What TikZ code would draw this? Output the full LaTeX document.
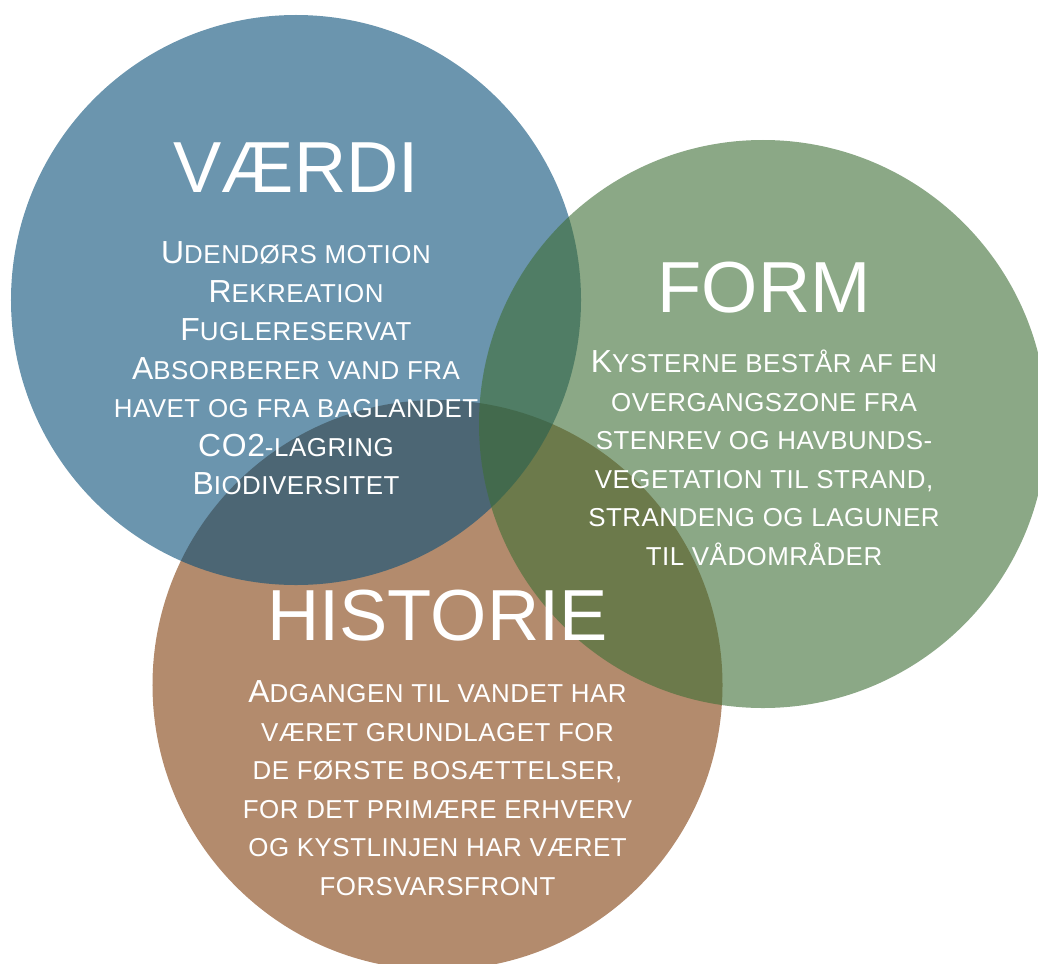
\documentclass[tikz,border=0pt]{standalone}
\usepackage{fontspec}
\setmainfont{Liberation Sans}
\newfontfamily\bodyfont[LetterSpace=2]{Liberation Sans}
\newcommand\kapit[1]{{\fontsize{26}{38.6}\selectfont #1}}
\definecolor{vaerdiblue}{HTML}{084E78}
\definecolor{formgreen}{HTML}{3E6E35}
\definecolor{historiebrown}{HTML}{803E0C}

\begin{document}
\begin{tikzpicture}[x=1bp, y=-1bp,
  kreds/.style={fill opacity=0.6},
  titel/.style={text=white, font=\fontsize{72.6}{80}\selectfont, anchor=base, inner sep=0pt},
  tekst/.style={text=white, font=\bodyfont\fontsize{32}{38.6}\selectfont, align=center, anchor=base, inner sep=0pt}]
  \useasboundingbox (0,0) rectangle (1038,964);

  % circles: brown at the bottom, green on top
  \fill[kreds, fill=historiebrown] (437.5,685) circle[radius=285bp];
  \fill[kreds, fill=vaerdiblue] (296,300) circle[radius=285bp];
  \fill[kreds, fill=formgreen] (763,424) circle[radius=284bp];

  % text nodes sit on the baseline of their last line
  \node[titel] (vaerdi) at (296,192) {VÆRDI};
  \node[tekst] (vaerdi-tekst) at (296,494.6) {U\kapit{DENDØRS MOTION}\\
    R\kapit{EKREATION}\\
    F\kapit{UGLERESERVAT}\\
    A\kapit{BSORBERER VAND FRA}\\
    \kapit{HAVET OG FRA BAGLANDET}\\
    CO2\kapit{-LAGRING}\\
    B\kapit{IODIVERSITET}};

  \node[titel] (form) at (764,312) {FORM};
  \node[tekst] (form-tekst) at (764,565) {K\kapit{YSTERNE BESTÅR AF EN}\\
    \kapit{OVERGANGSZONE FRA}\\
    \kapit{STENREV OG HAVBUNDS-}\\
    \kapit{VEGETATION TIL STRAND,}\\
    \kapit{STRANDENG OG LAGUNER}\\
    \kapit{TIL VÅDOMRÅDER}};

  \node[titel] (historie) at (437.5,640) {HISTORIE};
  \node[tekst] (historie-tekst) at (437.5,895) {A\kapit{DGANGEN TIL VANDET HAR}\\
    \kapit{VÆRET GRUNDLAGET FOR}\\
    \kapit{DE FØRSTE BOSÆTTELSER,}\\
    \kapit{FOR DET PRIMÆRE ERHVERV}\\
    \kapit{OG KYSTLINJEN HAR VÆRET}\\
    \kapit{FORSVARSFRONT}};
\end{tikzpicture}
\end{document}
